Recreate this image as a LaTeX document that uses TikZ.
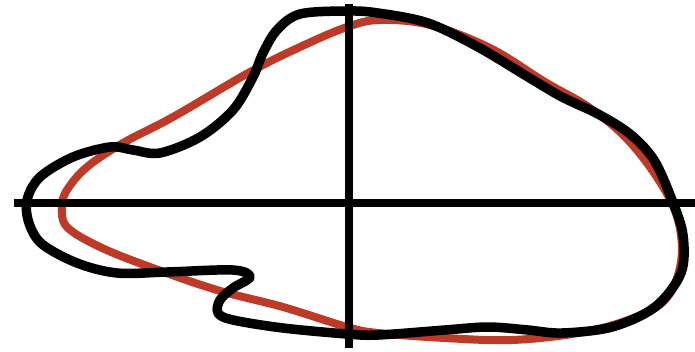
\documentclass[tikz,border=0pt]{standalone}
\definecolor{redcurve}{RGB}{190,58,40}
\begin{document}
\begin{tikzpicture}[x=1pt,y=-1pt,
  redline/.style={draw=redcurve,line width=8pt,line join=round},
  blackline/.style={draw=black,line width=9.5pt,line join=round},
  axisline/.style={draw=black,line width=8pt}]
\useasboundingbox (0,0) rectangle (695,351);
% red curve
\draw[redline] plot[smooth cycle, tension=0.6] coordinates {
 (62,207) (67,190) (87,167) (123,143) (173,117) (250,72) (300,47) (347,27)
 (380,20) (430,25) (490,48) (545,82) (590,108) (628,140) (660,182)
 (678,220) (681,262) (665,300) (628,320) (578,333) (512,340) (445,338)
 (378,333) (347,327) (283,307) (217,290) (150,267) (100,247) (67,227)};
% axes
\coordinate (hl) at (14,203);
\coordinate (hr) at (695,203);
\coordinate (vt) at (349,4);
\coordinate (vb) at (349,348);
\draw[axisline] (hl) -- (hr);
\draw[axisline] (vt) -- (vb);
% black curve
\draw[blackline] plot[smooth cycle, tension=0.55] coordinates {
 (347,11) (300,14) (277,30) (263,53) (253,77) (233,110) (200,137) (160,153)
 (133,150) (110,147) (73,157) (40,177) (27,200) (29,223) (42,244) (77,263)
 (117,273) (167,272) (233,270) (250,277) (233,288) (220,300) (218,313)
 (233,320) (283,328) (347,334) (378,335) (445,330) (488,327) (528,330)
 (562,333) (612,327) (655,307) (681,273) (683,235) (672,200) (654,160)
 (630,134) (598,114) (562,97) (528,77) (478,47) (428,23) (378,13)};
\end{tikzpicture}
\end{document}
